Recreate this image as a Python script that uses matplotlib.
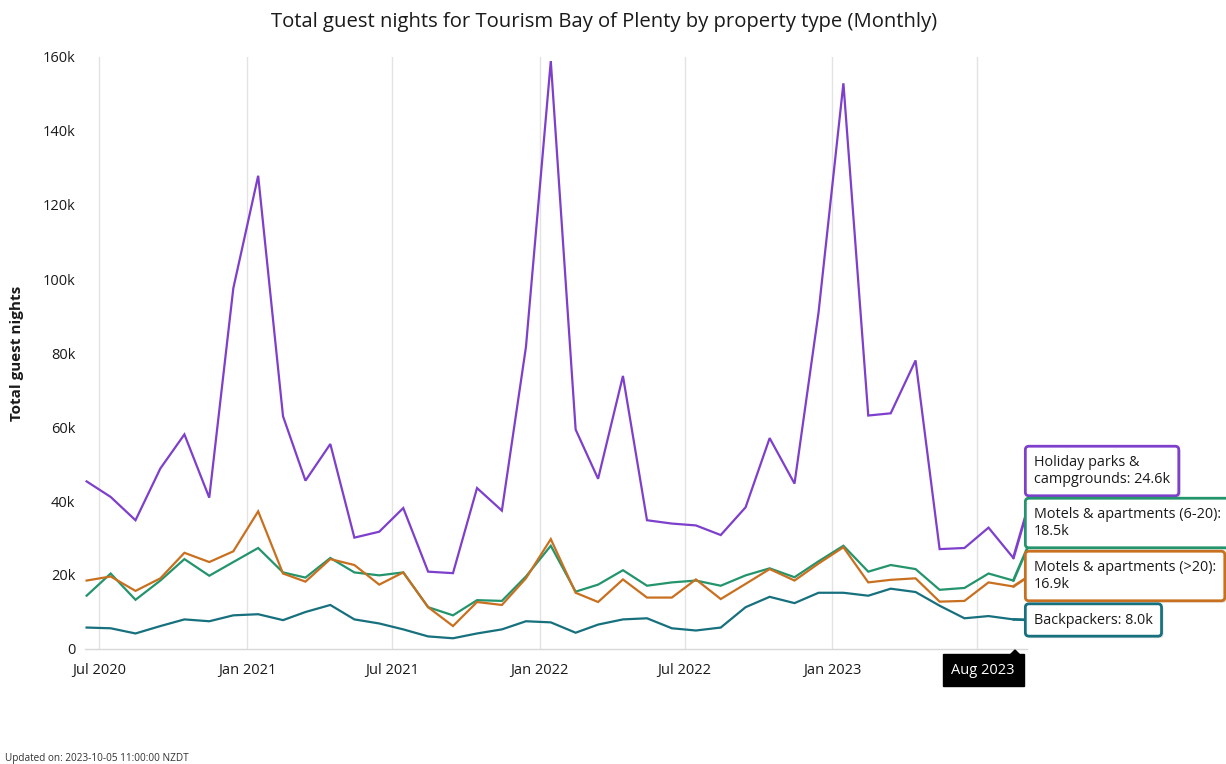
import matplotlib
matplotlib.use('Agg')
import matplotlib.pyplot as plt
import matplotlib.patheffects as pe
from matplotlib.patches import Polygon
import pandas as pd

plt.rcParams['font.family'] = ['Open Sans', 'DejaVu Sans']

# ---------------- data ----------------
months = pd.date_range('2020-06-01', '2023-08-01', freq='MS') + pd.Timedelta(days=14)

holiday_parks = [45.3, 41.1, 34.8, 48.8, 58.0, 40.9, 97.5, 127.9, 62.9, 45.5, 55.4, 30.1, 31.7, 38.1,
                 20.9, 20.5, 43.5, 37.4, 81.6, 158.9, 59.3, 46.0, 73.8, 34.8, 33.9, 33.4, 30.8,
                 38.3, 57.0, 44.7, 91.0, 152.9, 63.1, 63.7, 78.0, 27.0, 27.3, 32.8, 24.6]
motels_6_20 = [14.4, 20.4, 13.3, 18.5, 24.3, 19.8, 23.5, 27.3, 20.7, 19.3, 24.6, 20.7, 19.9, 20.7,
               11.3, 9.1, 13.2, 13.0, 19.6, 27.9, 15.5, 17.4, 21.3, 17.1, 18.0, 18.5, 17.1,
               19.9, 21.8, 19.4, 23.7, 27.9, 20.9, 22.7, 21.6, 16.0, 16.5, 20.4, 18.5]
motels_gt20 = [18.5, 19.6, 15.7, 19.1, 26.0, 23.5, 26.4, 37.2, 20.4, 18.2, 24.3, 22.7, 17.4, 20.7,
               11.3, 6.2, 12.7, 11.9, 19.1, 29.7, 15.2, 12.7, 18.8, 13.9, 13.9, 18.8, 13.5,
               17.6, 21.6, 18.5, 23.1, 27.5, 18.0, 18.7, 19.1, 12.8, 13.0, 18.0, 16.9]
backpackers = [5.8, 5.6, 4.2, 6.2, 8.0, 7.5, 9.1, 9.4, 7.8, 10.0, 11.9, 8.0, 6.9, 5.3,
               3.4, 2.9, 4.2, 5.3, 7.5, 7.2, 4.4, 6.6, 8.0, 8.3, 5.6, 5.0, 5.8,
               11.3, 14.1, 12.4, 15.2, 15.2, 14.4, 16.3, 15.4, 11.7, 8.3, 8.9, 8.0]

series_names = ['Holiday parks &\ncampgrounds: ', 'Motels & apartments (6-20):\n',
                'Motels & apartments (>20):\n', 'Backpackers: ']
series_values = [holiday_parks, motels_6_20, motels_gt20, backpackers]
series_colors = ['#7d3fcc', '#23946b', '#c8701f', '#17707d']

tick_dates = pd.to_datetime(['2020-07-01', '2021-01-01', '2021-07-01', '2022-01-01',
                             '2022-07-01', '2023-01-01', '2023-07-01'])
tick_labels = ['Jul 2020', 'Jan 2021', 'Jul 2021', 'Jan 2022', 'Jul 2022', 'Jan 2023', '']
y_ticks = [0, 20, 40, 60, 80, 100, 120, 140, 160]
y_tick_labels = ['0', '20k', '40k', '60k', '80k', '100k', '120k', '140k', '160k']

# ---------------- figure ----------------
W, H = 1226, 764
fig = plt.figure(figsize=(W / 100, H / 100), dpi=100)

def fx(px):
    return px / W

def fy(py):
    return 1 - py / H

ax_left, ax_right, ax_top, ax_bottom = 85, 1027, 57, 649
ax = fig.add_axes([fx(ax_left), fy(ax_bottom), fx(ax_right - ax_left), (ax_bottom - ax_top) / H])

for vals, col in zip(series_values, series_colors):
    ax.plot(months, vals, color=col, lw=1.6, solid_joinstyle='miter', zorder=3)

ax.set_ylim(0, 160)
ax.set_xlim(pd.Timestamp('2020-06-13'), pd.Timestamp('2023-09-01'))
ax.set_yticks(y_ticks)
ax.set_yticklabels(y_tick_labels)
ax.set_xticks(tick_dates)
ax.set_xticklabels(tick_labels)
ax.tick_params(axis='both', length=0, labelsize=10.5, colors='#1a1a1a')
ax.tick_params(axis='x', pad=10)
ax.tick_params(axis='y', pad=7)
ax.grid(axis='x', color='#e3e3e3', lw=1)
ax.set_axisbelow(True)
for s in ['top', 'right', 'left']:
    ax.spines[s].set_visible(False)
ax.spines['bottom'].set_color('#d8d8d8')
ax.spines['bottom'].set_linewidth(1)

fig.text(fx(604), fy(22), 'Total guest nights for Tourism Bay of Plenty by property type (Monthly)',
         ha='center', va='center', fontsize=14.6, color='#1a1a1a')
fig.text(fx(17), fy(353), 'Total guest nights', rotation=90, ha='center', va='center',
         fontsize=11, fontweight='bold', color='#1a1a1a')
fig.text(fx(5), fy(759), 'Updated on: 2023-10-05 11:00:00 NZDT', ha='left', va='center',
         fontsize=7.2, color='#333333')

# ---------------- callouts ----------------
label_y = [471, 523, 576, 620]
rel = [(0.0, 0.0), (0.0, 0.2), (0.0, 0.6), (0.0, 0.5)]
last_x = months[-1]
for name, vals, col, ly, rp in zip(series_names, series_values, series_colors, label_y, rel):
    txt = f'{name}{vals[-1]:.1f}k'
    ann = ax.annotate(txt, xy=(last_x, vals[-1]), xycoords='data',
                      xytext=(1034, H - ly), textcoords='figure pixels',
                      ha='left', va='center', fontsize=10.4, color='#1a1a1a', linespacing=1.2,
                      bbox=dict(boxstyle='round,pad=0.6,rounding_size=0.25', fc='white',
                                ec=col, lw=2),
                      arrowprops=dict(arrowstyle='-', color=col, lw=2, shrinkA=0, shrinkB=0,
                                      relpos=rp),
                      annotation_clip=False, zorder=5)
    ann.get_bbox_patch().set_path_effects([pe.withSimplePatchShadow(offset=(1.5, -1.5),
                                                                    alpha=0.15)])

# crosshair date label
fig.text(fx(983), fy(670), 'Aug 2023', ha='center', va='center', fontsize=10.5, color='white',
         bbox=dict(boxstyle='square,pad=0.6', fc='black', ec='black'))
tri = Polygon([[fx(1009), fy(656)], [fx(1021), fy(656)], [fx(1015), fy(650)]],
              closed=True, transform=fig.transFigure, fc='black', ec='black')
fig.patches.append(tri)

fig.savefig('out.png', dpi=100)
